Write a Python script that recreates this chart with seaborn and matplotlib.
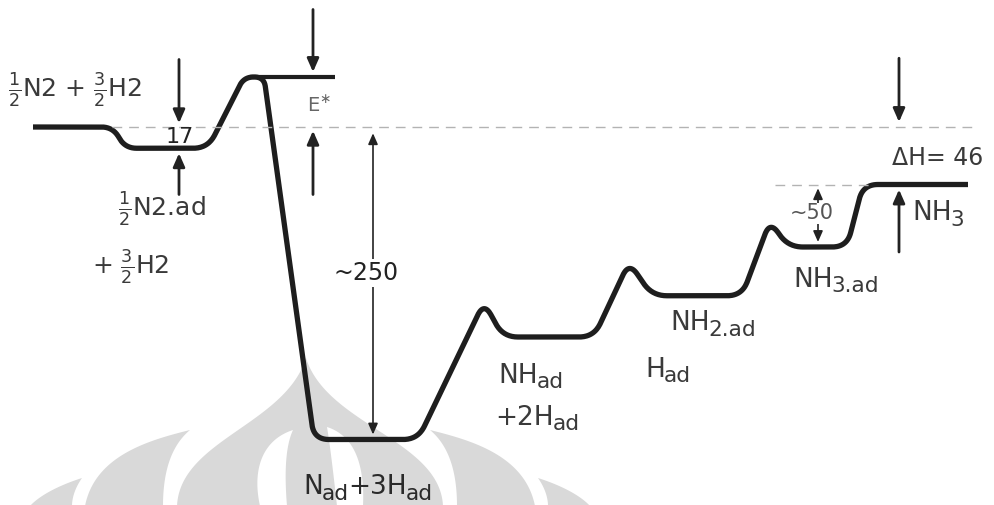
import numpy as np
import pandas as pd
import matplotlib
matplotlib.use("Agg")
import matplotlib.pyplot as plt
from matplotlib.transforms import offset_copy
import seaborn as sns

# ---- energy levels, kJ/mol, relative to 1/2 N2 + 3/2 H2 in the gas phase ----
E_gas = 0
E_N2ad = -17
E_TS1 = 40
E_Nad = -250
E_TS2 = -140
E_NHad = -168
E_TS3 = -108
E_NH2ad = -135
E_TS4 = -75
E_NH3ad = -96
E_NH3 = -46

# corner points of the energy profile along the reaction coordinate
path_x = [33, 113, 125, 208, 244, 264, 314, 418, 484, 503, 594, 629, 652,
          742, 770, 788, 847, 863, 968]
path_E = [E_gas, E_gas, E_N2ad, E_N2ad, E_TS1, E_TS1, E_Nad, E_Nad, E_TS2,
          E_NHad, E_NHad, E_TS3, E_NH2ad, E_NH2ad, E_TS4, E_NH3ad, E_NH3ad,
          E_NH3, E_NH3]

# reference lines and barrier marker (reaction-coordinate spans)
estar_span = [250, 335]
ref_gas_span = [112, 975]
ref_nh3_span = [775, 870]

# annotation values
dE_N2ad = 17
dE_Nad = "~250"
dE_NH3des = "~50"
dH = 46

Y_LIM = (-302.4, 101.6)
FIG_W, FIG_H = 994, 505
CORNER_R = 15  # corner rounding radius, pixels


def rounded_path(xs, ys, sy, r):
    """Polyline with its corners rounded by quadratic Bezier arcs (in pixel space)."""
    P = np.column_stack([np.asarray(xs, float), np.asarray(ys, float) * sy])
    out = [P[0]]
    t = np.linspace(0, 1, 30)[:, None]
    for k in range(1, len(P) - 1):
        a, p, b = P[k - 1], P[k], P[k + 1]
        la, lb = np.linalg.norm(a - p), np.linalg.norm(b - p)
        rr = min(r, 0.48 * la, 0.48 * lb)
        p1 = p + (a - p) / la * rr
        p2 = p + (b - p) / lb * rr
        out.extend((1 - t) ** 2 * p1 + 2 * (1 - t) * t * p + t**2 * p2)
    out.append(P[-1])
    out = np.vstack(out)
    return out[:, 0], out[:, 1] / sy


def bezier(p0, p1, p2, p3, n=60):
    t = np.linspace(0, 1, n)[:, None]
    p0, p1, p2, p3 = map(np.asarray, (p0, p1, p2, p3))
    return ((1 - t) ** 3 * p0 + 3 * (1 - t) ** 2 * t * p1
            + 3 * (1 - t) * t**2 * p2 + t**3 * p3)


sns.set_theme(style="white")
plt.rcParams["font.family"] = ["DejaVu Sans"]
plt.rcParams["mathtext.fontset"] = "dejavusans"

fig = plt.figure(figsize=(FIG_W / 100, FIG_H / 100), dpi=100)

# ---- faint emblem in the background ----
bg = fig.add_axes([0, 0, 1, 1], zorder=0)
bg.set_xlim(0, FIG_W)
bg.set_ylim(FIG_H, 0)
bg.axis("off")
grey = "#d9d9d9"


def shape(segs, color):
    pts = np.vstack([bezier(*s) for s in segs])
    bg.fill(pts[:, 0], pts[:, 1], color=color, lw=0)


# central onion dome with spire
shape([((177, 506), (180, 440), (285, 425), (306, 358)),
       ((306, 358), (327, 425), (440, 440), (443, 506))], grey)
# side petals
shape([((85, 506), (95, 455), (150, 440), (190, 430)),
       ((190, 430), (172, 445), (163, 470), (163, 506))], grey)
shape([((535, 506), (525, 455), (470, 440), (430, 430)),
       ((430, 430), (448, 445), (457, 470), (457, 506))], grey)
shape([((30, 506), (40, 495), (60, 485), (82, 478)),
       ((82, 478), (75, 488), (72, 498), (72, 506))], grey)
shape([((590, 506), (580, 495), (560, 485), (538, 478)),
       ((538, 478), (545, 488), (548, 498), (548, 506))], grey)
# white slits inside the dome
shape([((293, 430), (262, 440), (252, 470), (260, 506)),
       ((287, 506), (284, 470), (286, 445), (293, 430))], "white")
shape([((327, 427), (352, 435), (365, 460), (363, 506)),
       ((337, 506), (333, 470), (330, 445), (327, 427))], "white")

# ---- energy diagram ----
ax = fig.add_axes([0, 0, 1, 1], zorder=1)
ax.set_facecolor("none")
ax.set_xlim(0, FIG_W)
ax.set_ylim(*Y_LIM)
ax.axis("off")
sy = FIG_H / (Y_LIM[1] - Y_LIM[0])  # pixels per kJ/mol

cx, cy = rounded_path(path_x, path_E, sy, CORNER_R)
profile = pd.DataFrame({"coord": cx, "energy": cy})
sns.lineplot(data=profile, x="coord", y="energy", ax=ax, sort=False,
             estimator=None, color="#1e1e1e", lw=3.8, solid_capstyle="butt",
             legend=False)

# transition-state level marker
sns.lineplot(x=estar_span, y=[E_TS1, E_TS1], ax=ax, color="#1e1e1e",
             lw=3.0, solid_capstyle="butt", legend=False)

ax.hlines(E_gas, *ref_gas_span, color="#b3b3b3", lw=1.0, linestyles=(0, (7, 5)))
ax.hlines(E_NH3, *ref_nh3_span, color="#b3b3b3", lw=1.0, linestyles=(0, (7, 5)))

dark = "#222222"
thick = dict(arrowstyle="-|>,head_length=0.5,head_width=0.22", color=dark,
             lw=2.0, mutation_scale=16, shrinkA=0, shrinkB=0)
thin = dict(arrowstyle="<|-|>,head_length=0.5,head_width=0.22", color=dark,
            lw=1.2, mutation_scale=13, shrinkA=0, shrinkB=0)


def arrow(x, y_from, y_to, props):
    ax.annotate("", xy=(x, y_to), xytext=(x, y_from), arrowprops=props)


# adsorption energy of N2
arrow(179, E_gas + 54, E_gas + 3, thick)
arrow(179, E_N2ad - 37, E_N2ad - 4, thick)
# activation barrier
arrow(313, E_TS1 + 54, E_TS1 + 4, thick)
arrow(313, E_gas - 54, E_gas - 3, thick)
# depth of the N_ad + 3H_ad well
arrow(373, E_gas - 5, E_Nad + 4, thin)
# overall enthalpy
arrow(899, E_gas + 55, E_gas + 4, thick)
arrow(899, E_NH3 - 54, E_NH3 - 4, thick)
# NH3 desorption
arrow(818, E_NH3 - 3, E_NH3ad + 4, thin)

lab = "#3a3a3a"
renderer = fig.canvas.get_renderer()


def species(x, y, parts, fs=19, color=lab, sub_scale=0.82, drop=5.5):
    """Write a species name whose subscript parts are smaller and lowered."""
    off = 0.0
    for txt, sub in parts:
        tr = offset_copy(ax.transData, fig=fig, x=off, y=-drop if sub else 0,
                         units="dots")
        t = ax.text(x, y, txt, fontsize=fs * sub_scale if sub else fs,
                    color=color, ha="left", va="baseline", transform=tr)
        off += t.get_window_extent(renderer).width - 1


ax.text(8, 24, r"$\frac{1}{2}$N2 + $\frac{3}{2}$H2", fontsize=18, color=lab,
        ha="left", va="baseline")
ax.text(180, -8, str(dE_N2ad), fontsize=16, color=dark, ha="center",
        va="center")
ax.text(307, 12, r"E$^{\ast}$", fontsize=14, color="#666666", ha="left",
        va="baseline")
ax.text(118, -71, r"$\frac{1}{2}$N2.ad", fontsize=18, color=lab, ha="left",
        va="baseline")
ax.text(92, -117.6, r"+ $\frac{3}{2}$H2", fontsize=18, color=lab, ha="left",
        va="baseline")
ax.text(366, -117, dE_Nad, fontsize=17, color=dark, ha="center", va="center",
        bbox=dict(fc="white", ec="none", pad=1.5))
species(498, -204.8, [("NH", False), ("ad", True)])
species(495, -238.4, [("+2H", False), ("ad", True)])
species(303, -293.6, [("N", False), ("ad", True), ("+3H", False), ("ad", True)],
        color="#2a2a2a")
species(670, -162.4, [("NH", False), ("2.ad", True)])
species(645, -200, [("H", False), ("ad", True)])
species(793, -128, [("NH", False), ("3.ad", True)])
species(912, -74.4, [("NH", False), ("3", True)])
ax.text(892, -30.4, "\u0394H= " + str(dH), fontsize=17, color=lab,
        ha="left", va="baseline")
ax.text(812, -69, dE_NH3des, fontsize=15, color="#555555", ha="center",
        va="center", bbox=dict(fc="white", ec="none", pad=0.5))

fig.savefig("out.png", dpi=100, facecolor="white")
